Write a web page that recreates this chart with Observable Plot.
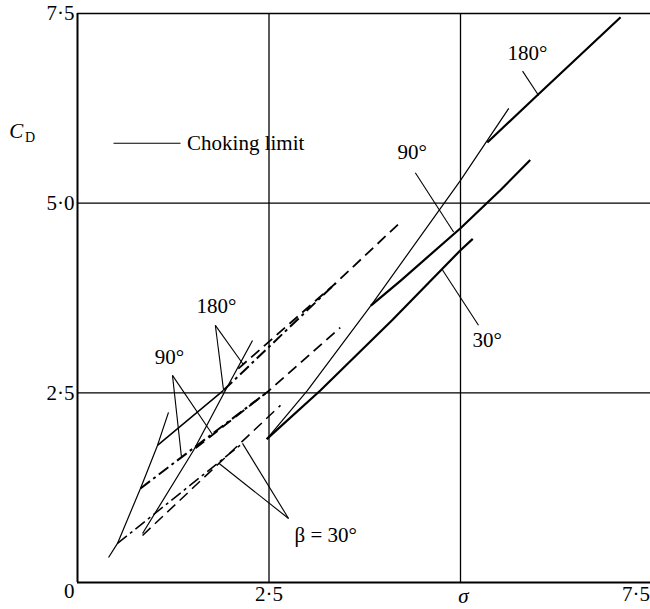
<!DOCTYPE html>
<html><head><meta charset="utf-8">
<script src="https://cdn.jsdelivr.net/npm/d3@7"></script>
<script src="https://cdn.jsdelivr.net/npm/@observablehq/plot@0.6"></script>
<style>
html,body{margin:0;padding:0;background:#fff;}
#chart{width:650px;height:609px;overflow:hidden;}
</style></head><body><div id="chart"></div>
<script>
// ---- axis ticks ----
const xTicks = [2.5];
const xTickLabels = ["2·5"];
const xEndTick = [7.5];
const xEndLabel = ["7·5"];
const yTicks = [2.5, 5, 7.5];
const yTickLabels = ["2·5", "5·0", "7·5"];
const gridValues = [2.5, 5];

// ---- choking-limit lines (thin solid) [sigma, C_D] ----
const chokeA = [[0.405,0.33],[0.522,0.515],[0.822,1.24],[1.044,1.807],[1.188,2.243]];
const chokeC = [[0.849,0.646],[1.514,1.74],[1.93,2.53],[2.285,3.19]];
const chokeR = [[2.47,1.89],[3.0,2.53],[3.83,3.65],[5.0,5.30],[5.63,6.25]];

// ---- right group (thick solid) ----
const right30  = [[2.47,1.89],[3.17,2.53],[4.11,3.46],[5.0,4.38],[5.16,4.53]];
const right90  = [[3.83,3.65],[4.22,3.98],[5.0,4.67],[5.52,5.17],[5.91,5.57]];
const right180 = [[5.35,5.80],[6.0,6.42],[7.09,7.45]];

// ---- left group ----
const left180Solid = [[1.044,1.807],[1.906,2.533]];
const left180A = [[1.906,2.533],[3.37,3.945]];
const left180C = [[2.10,2.82],[3.37,3.945],[4.217,4.75]];
const left90A  = [[0.822,1.24],[2.49,2.52]];
const left90C  = [[1.54,1.77],[2.49,2.52],[3.43,3.36]];
const left30A  = [[0.522,0.515],[2.154,1.834]];
const left30C  = [[0.849,0.62],[2.65,2.335]];

// ---- annotations ----
const labels = [
  {x:1.815, y:3.64, text:"180°"},
  {x:1.20,  y:2.97, text:"90°"},
  {x:3.24,  y:0.62, text:"β = 30°"},
  {x:5.875, y:6.98, text:"180°"},
  {x:4.37,  y:5.67, text:"90°"},
  {x:5.35,  y:3.19, text:"30°"}
];
const leaders = [
  {x1:1.80, y1:3.39, x2:1.906, y2:2.54},
  {x1:1.80, y1:3.39, x2:2.167, y2:2.87},
  {x1:1.24, y1:2.73, x2:1.358, y2:1.65},
  {x1:1.24, y1:2.73, x2:1.762, y2:1.95},
  {x1:2.755, y1:0.844, x2:2.154, y2:1.834},
  {x1:2.755, y1:0.844, x2:1.841, y2:1.575},
  {x1:5.81, y1:6.74, x2:6.02, y2:6.42},
  {x1:4.41, y1:5.40, x2:4.91, y2:4.62},
  {x1:5.235, y1:3.39, x2:4.765, y2:4.12}
];
const legendLine = [{x1:0.47, y1:5.79, x2:1.345, y2:5.79}];
const legendText = [{x:1.43, y:5.79, text:"Choking limit"}];

const L = (pts, opts) => Plot.line(pts, {x: d => d[0], y: d => d[1], stroke: "black", strokeLinecap: "butt", ...opts});

const chart = Plot.plot({
  width: 650, height: 609,
  marginLeft: 77, marginRight: 0, marginTop: 13, marginBottom: 27,
  x: {domain: [0, 7.5], range: [77, 651.5]},
  y: {domain: [0, 7.5], range: [582, 13]},
  style: {fontFamily: "'Liberation Serif', 'DejaVu Serif', serif", fontSize: "21px", color: "black", background: "white"},
  marks: [
    Plot.ruleX(gridValues, {stroke: "black", strokeWidth: 1.3}),
    Plot.ruleY(gridValues, {stroke: "black", strokeWidth: 1.3}),
    Plot.ruleX([0], {stroke: "black", strokeWidth: 2}),
    Plot.ruleY([0], {stroke: "black", strokeWidth: 2}),
    Plot.ruleY([7.5], {stroke: "black", strokeWidth: 1.6}),
    Plot.axisX(xTicks, {tickSize: 0, tickPadding: 4, label: null, tickFormat: d => xTickLabels[xTicks.indexOf(d)]}),
    Plot.axisY(yTicks, {tickSize: 0, tickPadding: 3, label: null, tickFormat: d => yTickLabels[yTicks.indexOf(d)]}),
    Plot.text(xEndTick, {x: d => d, y: () => 0, text: (d, i) => xEndLabel[i], textAnchor: "end", dx: -2, dy: 12, lineAnchor: "middle"}),
    Plot.text(["0"], {x: () => 0, y: () => 0, text: d => d, textAnchor: "end", dx: -3, dy: 9, lineAnchor: "middle"}),
    Plot.text(["σ"], {x: () => 5.0, y: () => 0, text: d => d, dx: 3, dy: 14, fontStyle: "italic", lineAnchor: "middle"}),
    Plot.text(["C"], {x: () => -0.80, y: () => 5.95, text: d => d, fontStyle: "italic", lineAnchor: "middle"}),
    Plot.text(["D"], {x: () => -0.62, y: () => 5.87, text: d => d, fontSize: 14, lineAnchor: "middle"}),

    // choking limits
    L(chokeA, {strokeWidth: 1.2}),
    L(chokeC, {strokeWidth: 1.2}),
    L(chokeR, {strokeWidth: 1.2}),
    // right group
    L(right30, {strokeWidth: 2.2}),
    L(right90, {strokeWidth: 2.2}),
    L(right180, {strokeWidth: 2.2}),
    // left group
    L(left180Solid, {strokeWidth: 1.5}),
    L(left180A, {strokeWidth: 2, strokeDasharray: "12,4,3,4"}),
    L(left180C, {strokeWidth: 1.8, strokeDasharray: "11,6"}),
    L(left90A, {strokeWidth: 2, strokeDasharray: "12,4,3,4"}),
    L(left90C, {strokeWidth: 1.8, strokeDasharray: "11,6"}),
    L(left30A, {strokeWidth: 1.5, strokeDasharray: "12,4,3,4"}),
    L(left30C, {strokeWidth: 1.5, strokeDasharray: "11,6"}),

    // leaders & labels
    Plot.link(leaders, {x1: "x1", y1: "y1", x2: "x2", y2: "y2", stroke: "black", strokeWidth: 1.1}),
    Plot.text(labels, {x: "x", y: "y", text: "text", lineAnchor: "middle"}),
    Plot.link(legendLine, {x1: "x1", y1: "y1", x2: "x2", y2: "y2", stroke: "black", strokeWidth: 1.2}),
    Plot.text(legendText, {x: "x", y: "y", text: "text", textAnchor: "start", lineAnchor: "middle", fontSize: 21})
  ]
});
document.getElementById("chart").appendChild(chart);
</script>
</body></html>
